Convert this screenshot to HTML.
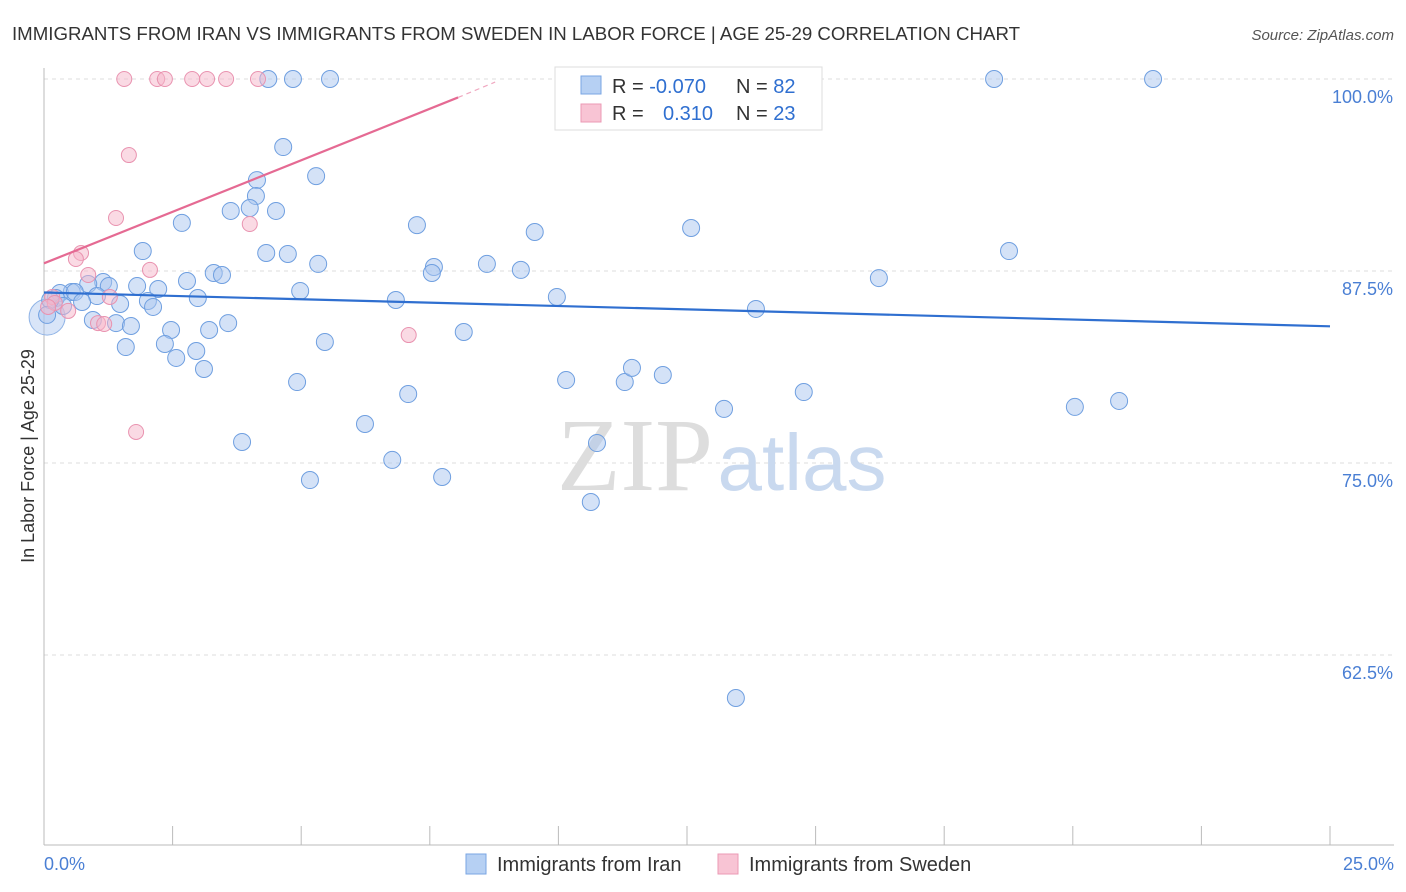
<!DOCTYPE html>
<html><head><meta charset="utf-8"><style>
body{margin:0;background:#fff;font-family:"Liberation Sans",sans-serif}
svg{display:block}
</style></head><body>
<svg width="1406" height="892" viewBox="0 0 1406 892">
<text x="12" y="40" font-size="18" fill="#333" textLength="1008" lengthAdjust="spacingAndGlyphs">IMMIGRANTS FROM IRAN VS IMMIGRANTS FROM SWEDEN IN LABOR FORCE | AGE 25-29 CORRELATION CHART</text>
<text x="1394" y="40" font-size="15" fill="#555" font-style="italic" text-anchor="end">Source: ZipAtlas.com</text>
<g id="grid"></g>
<g>
<text x="635" y="490" font-size="104" font-family="Liberation Serif,serif" fill="#ddd" text-anchor="middle">ZIP</text>
<text x="802" y="490" font-size="80" fill="#c9d9ef" text-anchor="middle">atlas</text>
</g>
<g id="axes"></g>
<g id="pts"></g>
<g id="lines"></g>
<text transform="translate(34,456) rotate(-90)" font-size="18" fill="#333" text-anchor="middle">In Labor Force | Age 25-29</text>
<text x="44" y="870" font-size="18" fill="#4a7fd4">0.0%</text>
<text x="1394" y="870" font-size="18" fill="#4a7fd4" text-anchor="end">25.0%</text>
<g>
<rect x="555" y="67" width="267" height="63" fill="#fff" stroke="#ddd"/>
<rect x="581" y="76" width="20" height="18" fill="#b6d0f3" stroke="#7aa6e3"/>
<rect x="581" y="104" width="20" height="18" fill="#f8c4d4" stroke="#eb9ab4"/>
<text x="612" y="93" font-size="20" fill="#333">R = <tspan fill="#2f6fd0">-0.070</tspan></text>
<text x="736" y="93" font-size="20" fill="#333">N = <tspan fill="#2f6fd0">82</tspan></text>
<text x="612" y="120" font-size="20" fill="#333">R = <tspan fill="#2f6fd0" x="663">0.310</tspan></text>
<text x="736" y="120" font-size="20" fill="#333">N = <tspan fill="#2f6fd0">23</tspan></text>
</g>
<g>
<rect x="466" y="854" width="20" height="20" fill="#b6d0f3" stroke="#7aa6e3"/>
<text x="497" y="871" font-size="20" fill="#333">Immigrants from Iran</text>
<rect x="718" y="854" width="20" height="20" fill="#f8c4d4" stroke="#eb9ab4"/>
<text x="749" y="871" font-size="20" fill="#333">Immigrants from Sweden</text>
</g>
</svg>
<script>
const yTicks=[100,87.5,75,62.5];
const yTickLabels=["100.0%","87.5%","75.0%","62.5%"];
const xTicks=[0,2.5,5,7.5,10,12.5,15,17.5,20,22.5,25];
const iranX=[4.36,4.84,5.56,11.06,18.47,21.56,4.65,5.29,4.14,4.12,3.63,4.0,4.51,2.68,7.25,9.54,12.58,1.92,4.32,4.74,5.33,7.58,7.54,8.61,9.27,18.76,16.23,3.30,3.46,2.78,1.81,2.22,1.15,1.26,0.86,0.54,0.31,0.23,0.60,1.03,1.48,2.02,2.12,2.99,4.98,6.84,9.97,13.84,0.74,0.37,0.12,0.06,0.95,1.40,1.69,2.47,3.21,3.58,8.16,5.46,1.59,2.35,2.96,2.57,3.11,4.92,10.15,11.29,11.43,12.03,7.08,14.77,13.22,20.04,20.9,6.24,3.85,10.75,6.77,5.17,7.74,10.63,13.45];
const iranY=[100,100,100,100,100,100,95.57,93.68,93.42,92.38,91.41,91.6,91.41,90.63,90.49,90.04,90.3,88.8,88.67,88.61,87.96,87.76,87.37,87.96,87.57,88.8,87.04,87.37,87.24,86.85,86.52,86.33,86.78,86.52,86.65,86.13,86.07,85.74,86.13,85.87,85.35,85.55,85.16,85.74,86.2,85.61,85.81,85.03,85.48,85.22,85.61,84.64,84.31,84.11,83.92,83.66,83.66,84.11,83.53,82.88,82.55,82.75,82.29,81.84,81.12,80.27,80.40,80.27,81.19,80.73,79.49,79.62,78.52,78.65,79.04,77.54,76.37,76.30,75.20,73.89,74.09,72.46,59.70];
const swedenX=[1.56,2.2,2.35,2.88,3.17,3.54,4.16,1.65,1.4,4.0,0.72,0.62,0.86,2.06,0.16,0.21,0.47,1.05,1.17,1.28,7.09,1.79,0.08];
const swedenY=[100,100,100,100,100,100,100,95.05,90.95,90.56,88.67,88.28,87.24,87.57,85.81,85.42,84.90,84.11,84.05,85.81,83.33,77.02,85.16];
const X0=44,X1=1330,Y100=79,PX=15.36;
const sx=v=>X0+(X1-X0)*v/25, sy=v=>Y100+(100-v)*PX;
const NS="http://www.w3.org/2000/svg";
function mk(tag,attrs,parent){const e=document.createElementNS(NS,tag);for(const k in attrs)e.setAttribute(k,attrs[k]);parent.appendChild(e);return e;}
const grid=document.getElementById('grid'),axes=document.getElementById('axes'),pts=document.getElementById('pts'),lines=document.getElementById('lines');
yTicks.forEach((t,i)=>{
 const l=mk('line',{x1:X0,x2:1394,y1:sy(t),y2:sy(t),stroke:'#ddd','stroke-dasharray':'4,4'},grid);
 
 
 const tx=mk('text',{x:1393,y:sy(t)+24,'font-size':18,fill:'#4a7fd4','text-anchor':'end'},grid);
 tx.textContent=yTickLabels[i];
 
 
});
mk('line',{x1:X0,x2:X0,y1:68,y2:845,stroke:'#bbb'},axes);
mk('line',{x1:X0,x2:1394,y1:845,y2:845,stroke:'#bbb'},axes);
xTicks.forEach(t=>{const l=mk('line',{x1:sx(t),x2:sx(t),y1:826,y2:845,stroke:'#bbb'},axes);
 
 });
mk('circle',{cx:sx(0.06),cy:sy(84.5),r:18,fill:'rgba(170,198,240,0.45)',stroke:'#8fb3e6'},pts);
iranX.forEach((x,i)=>{const c=mk('circle',{cx:sx(x),cy:sy(iranY[i]),r:8.5,fill:'rgba(170,198,240,0.5)',stroke:'#6f9fe0','stroke-width':1},pts);
 
 });
swedenX.forEach((x,i)=>{const c=mk('circle',{cx:sx(x),cy:sy(swedenY[i]),r:7.5,fill:'rgba(246,182,202,0.5)',stroke:'#e993b0','stroke-width':1},pts);
 
 });
const bl=mk('line',{x1:sx(0),y1:sy(86.1),x2:sx(25),y2:sy(83.9),stroke:'#2f6fd0','stroke-width':2.2},lines);


const pl=mk('line',{x1:sx(0),y1:sy(88),x2:sx(8.05),y2:sy(98.8),stroke:'#e56a93','stroke-width':2.2},lines);


const pd=mk('line',{x1:sx(8.05),y1:sy(98.8),x2:sx(8.77),y2:sy(99.8),stroke:'#f0a8c0','stroke-width':1.2,'stroke-dasharray':'5,4'},lines);


</script>
</body></html>
